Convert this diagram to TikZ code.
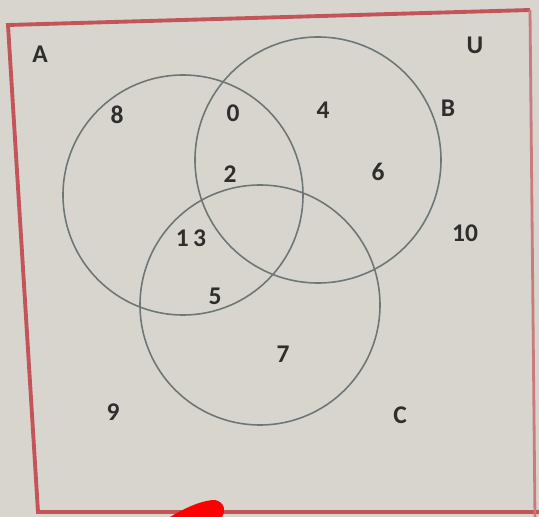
\documentclass[tikz,border=0pt]{standalone}
\usepackage{fontspec}
\setmainfont{Carlito}
\usepackage{xcolor}
\usepackage{tikz}

\definecolor{paper}{HTML}{D8D5CF}
\definecolor{frame}{HTML}{C2545A}
\definecolor{ring}{HTML}{6E7775}
\definecolor{ink}{HTML}{2E2E2C}

\begin{document}
\begin{tikzpicture}[x=0.02cm, y=-0.02cm,
    setlabel/.style={text=ink, font=\fontsize{14.5}{14.5}\selectfont\bfseries},
    ringline/.style={draw=ring, line width=0.9pt}]
  % Fondo de la foto
  \fill[paper] (0,0) rectangle (539,517);
  \useasboundingbox (0,0) rectangle (539,517);

  % Conjunto universal U
  \draw[frame, line width=2.2pt, line join=miter] (530,10) -- (8,25) -- (38,512) -- (539,512);
  \draw[frame!70!paper, line width=1.6pt] (530,10) -- (535,517);

  % Conjuntos A, B, C
  \draw[ringline] (183,195) circle (120);
  \draw[ringline] (318,160) circle (123);
  \draw[ringline] (260,305) circle (120);

  % Nombres de los conjuntos
  \node[setlabel] (labA) at (40,54) {A};
  \node[setlabel] (labU) at (475,45) {U};
  \node[setlabel] (labB) at (448,108) {B};
  \node[setlabel] (labC) at (400,415) {C};

  % Elementos
  \node[setlabel] (e8) at (117,115) {8};
  \node[setlabel] (e0) at (233,113) {0};
  \node[setlabel] (e4) at (323,110) {4};
  \node[setlabel] (e2) at (230,174) {2};
  \node[setlabel] (e6) at (378,172) {6};
  \node[setlabel] (e10) at (465,233) {10};
  \node[setlabel] (e13) at (191,238) {1\,3};
  \node[setlabel] (e5) at (215,296) {5};
  \node[setlabel] (e7) at (283,354) {7};
  \node[setlabel] (e9) at (113,412) {9};

  % Marca roja
  \fill[red] (170,517) .. controls (190,505) and (205,500) .. (215,500)
    .. controls (225,502) and (226,512) .. (222,517) -- cycle;
\end{tikzpicture}
\end{document}
